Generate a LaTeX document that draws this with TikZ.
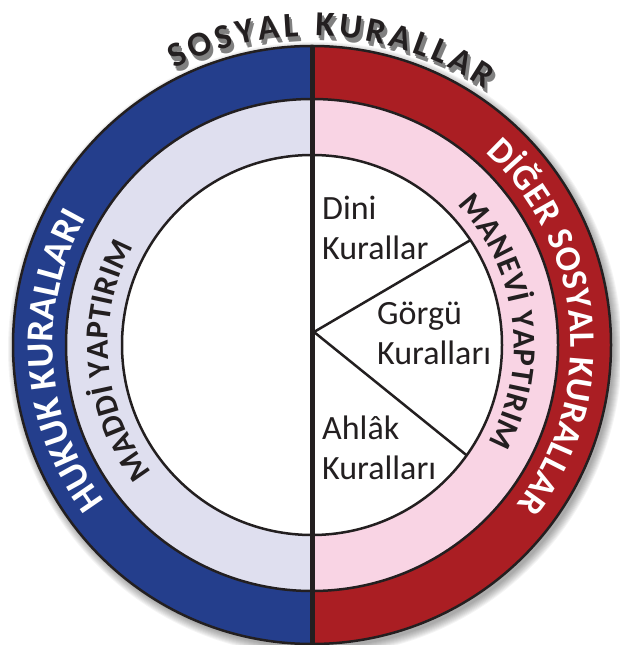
\documentclass[tikz,border=0pt]{standalone}
\usepackage{fontspec}
\setmainfont{Carlito}
\usetikzlibrary{decorations.text,calc}
\definecolor{blueR}{RGB}{36,62,140}
\definecolor{redR}{RGB}{170,30,35}
\definecolor{lavR}{RGB}{223,223,239}
\definecolor{pinkR}{RGB}{249,212,228}
\definecolor{inkR}{RGB}{35,31,32}
\tikzset{
  ringline/.style={draw=inkR,line width=2.5pt},
  arctext/.style={decorate,decoration={text along path,text align=fit to path,text color=#1}},
  lbl/.style={anchor=base west,align=left,inner sep=0pt,font=\fontsize{34}{40}\selectfont,text=inkR}
}
\begin{document}
\begin{tikzpicture}[x=1pt,y=1pt]
\useasboundingbox (0,0) rectangle (620,645);
\coordinate (c) at (312,300);
% drop shadow
\foreach \i in {1,...,9}{
  \fill[black,opacity=0.045] (315,296) circle ({298+\i});
}
% outer ring halves
\fill[blueR] (c) -- ++(90:299) arc[start angle=90,end angle=270,radius=299] -- cycle;
\fill[redR] (c) -- ++(90:299) arc[start angle=90,end angle=-90,radius=299] -- cycle;
\fill[lavR] (c) -- ++(90:246) arc[start angle=90,end angle=270,radius=246] -- cycle;
\fill[pinkR] (c) -- ++(90:246) arc[start angle=90,end angle=-90,radius=246] -- cycle;
\fill[white] (c) circle (190);
\draw[ringline] (c) circle (299);
\draw[ringline] (c) circle (246);
\draw[ringline] (c) circle (190);
% divider
\coordinate (top) at (312,599);
\coordinate (bot) at (312,0);
\draw[inkR,line width=5pt] (top) -- (bot);
% spokes
\coordinate (v) at (314,313);
\path (c) ++(33.5:190) coordinate (s1);
\path (c) ++(-35.5:190) coordinate (s2);
\draw[inkR,line width=2.5pt] (s1) -- (v) -- (s2);
% labels (anchor = baseline of last line)
\node[lbl] (dini) at (322,385) {Dini\\Kurallar};
\node[lbl] (gorgu) at (377,280) {Görgü\\Kuralları};
\node[lbl] (ahlak) at (322,165) {Ahlâk\\Kuralları};
% top title with soft shadow
\foreach \dx/\dy in {2/-3,3/-5}{
  \path[arctext=gray,opacity=0.18,decoration={text={|\fontsize{35}{35}\bfseries|SOSYAL KURALLAR}}]
    ($(c)+(\dx,\dy)$) ++(116.5:309) arc[start angle=116.5,end angle=56,radius=309];
}
\path[arctext=inkR,decoration={text={|\fontsize{35}{35}\bfseries|SOSYAL KURALLAR}}]
  (c) ++(116.5:309) arc[start angle=116.5,end angle=56,radius=309];
% ring texts
\path[arctext=white,decoration={text={|\fontsize{38}{38}\bfseries|HUKUK KURALLARI}}]
  (c) ++(217:259) arc[start angle=217,end angle=151,radius=259];
\path[arctext=white,decoration={text={|\fontsize{36}{36}\bfseries|DİĞER SOSYAL KURALLAR}}]
  (c) ++(48:259) arc[start angle=48,end angle=-38,radius=259];
\path[arctext=inkR,decoration={text={|\fontsize{32}{32}\bfseries|MADDİ YAPTIRIM}}]
  (c) ++(218.5:204) arc[start angle=218.5,end angle=151,radius=204];
\path[arctext=inkR,decoration={text={|\fontsize{32}{32}\bfseries|MANEVİ YAPTIRIM}}]
  (c) ++(44:202) arc[start angle=44,end angle=-29,radius=202];
\end{tikzpicture}
\end{document}
